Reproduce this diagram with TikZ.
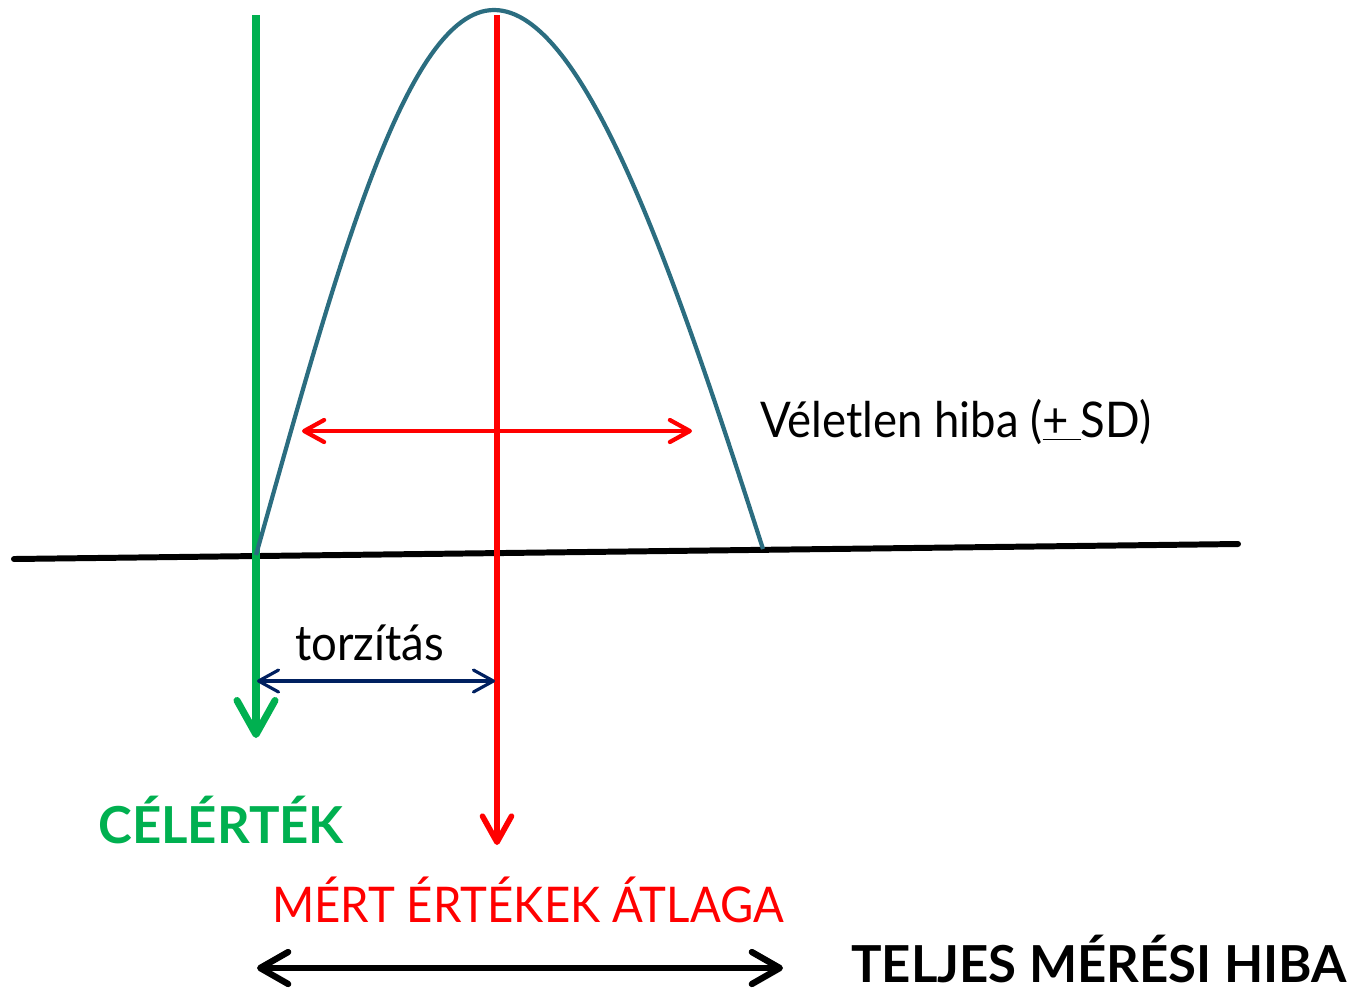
\documentclass[tikz,border=0pt]{standalone}
\usepackage{fontspec}
\setmainfont{Lato}
\newfontfamily\narrowfont[FakeStretch=0.925]{Lato}
\usepackage{xcolor}
\usepackage{tikz}
\usetikzlibrary{arrows.meta,positioning}

\definecolor{targetgreen}{HTML}{00B050}
\definecolor{meanred}{HTML}{FF0000}
\definecolor{curveteal}{HTML}{2B6D80}
\definecolor{biasnavy}{HTML}{002060}

\begin{document}
\begin{tikzpicture}[
    x=0.02cm, y=-0.02cm,
    txt/.style={inner sep=0pt, anchor=base west, font=\narrowfont\fontsize{28}{32}\selectfont},
    boldtxt/.style={inner sep=0pt, anchor=base west, font=\fontsize{29}{32}\selectfont\bfseries},
    axis/.style={line width=3.4pt, line cap=round},
    bell/.style={curveteal, line width=2.4pt},
    targetline/.style={targetgreen, line width=4pt, -{Straight Barb[length=0.68cm, width=0.76cm, round]}},
    meanline/.style={meanred, line width=3.2pt, -{Straight Barb[length=0.52cm, width=0.58cm, round]}},
    spread/.style={meanred, line width=2.4pt, {Straight Barb[length=0.4cm, width=0.44cm, round]}-{Straight Barb[length=0.4cm, width=0.44cm, round]}},
    biasarrow/.style={biasnavy, line width=1.8pt, {Straight Barb[length=0.4cm, width=0.44cm, round]}-{Straight Barb[length=0.4cm, width=0.44cm, round]}},
    totalarrow/.style={black, line width=3.6pt, {Straight Barb[length=0.56cm, width=0.64cm, round]}-{Straight Barb[length=0.56cm, width=0.64cm, round]}}
]
\useasboundingbox (0,0) rectangle (1366,992);

% Points
\coordinate (axisL) at (14,559);
\coordinate (axisR) at (1238,544);
\coordinate (bellL) at (256,555);
\coordinate (bellTop) at (494,10);
\coordinate (bellR) at (763,549);
\coordinate (targetTop) at (256,15);
\coordinate (targetEnd) at (256,738);
\coordinate (meanTop) at (497,15);
\coordinate (meanEnd) at (497,845);
\coordinate (sdL) at (302,431);
\coordinate (sdR) at (692,431);
\coordinate (biasL) at (257,681);
\coordinate (biasR) at (495,681);
\coordinate (totalL) at (257,968);
\coordinate (totalR) at (783,968);

% Axis and lines
\draw[axis] (axisL) -- (axisR);
\draw[targetline] (targetTop) -- (targetEnd);
\draw[meanline] (meanTop) -- (meanEnd);

% Distribution
\draw[bell] (bellL) .. controls (335,275) and (405,10) .. (bellTop)
    .. controls (585,10) and (675,275) .. (bellR);

% Arrows
\draw[spread] (sdL) -- (sdR);
\draw[biasarrow] (biasL) -- (biasR);
\draw[totalarrow] (totalL) -- (totalR);

% Labels
\node[txt] (sdtext) at (760,437) {Véletlen hiba (\underline{+\ }SD)};
\node[txt] (biastext) at (295,660) {torzítás};
\node[boldtxt, targetgreen] (targettext) at (98,843) {CÉLÉRTÉK};
\node[txt, meanred] (meantext) at (272,922) {MÉRT ÉRTÉKEK ÁTLAGA};
\node[boldtxt] (totaltext) at (851,982) {TELJES MÉRÉSI HIBA};

\end{tikzpicture}
\end{document}
